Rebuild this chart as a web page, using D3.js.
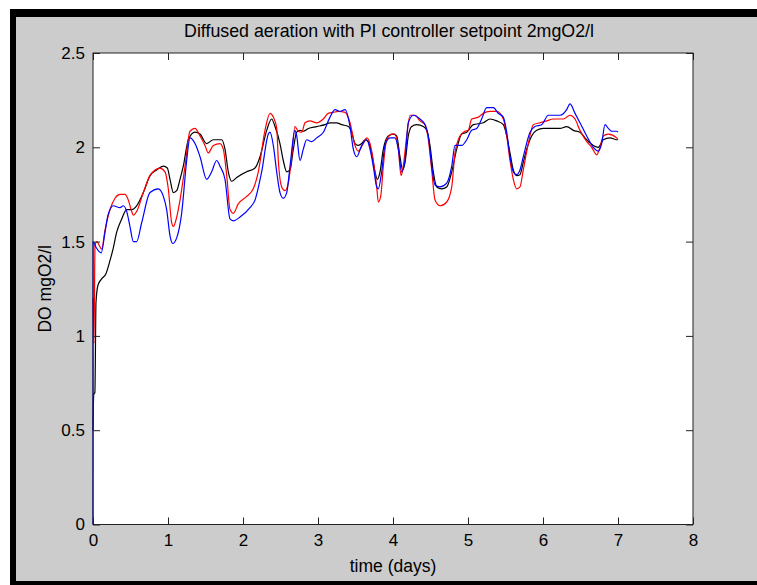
<!DOCTYPE html>
<html>
<head>
<meta charset="utf-8">
<script src="https://cdn.jsdelivr.net/npm/d3@7"></script>
<style>
  html, body { margin: 0; padding: 0; background: #fff; overflow: hidden; }
  svg { display: block; }
  text { font-family: "Liberation Sans", Arial, Helvetica, sans-serif; fill: #000; }
</style>
</head>
<body>
<div id="content"></div>
<script>
// Data (time in days, DO in mgO2/l)
const blackT = [0, 0.01, 0.025, 0.04, 0.067, 0.11, 0.173, 0.227, 0.267, 0.316, 0.383, 0.449, 0.516, 0.582, 0.671, 0.76, 0.849, 0.938, 0.991, 1.027, 1.071, 1.116, 1.16, 1.204, 1.271, 1.36, 1.427, 1.516, 1.604, 1.716, 1.76, 1.804, 1.849, 1.916, 2.049, 2.16, 2.227, 2.316, 2.382, 2.427, 2.493, 2.537, 2.583, 2.627, 2.671, 2.716, 2.76, 2.804, 2.871, 2.983, 3.093, 3.16, 3.249, 3.316, 3.404, 3.449, 3.493, 3.537, 3.583, 3.627, 3.671, 3.716, 3.76, 3.791, 3.827, 3.871, 3.937, 4.004, 4.049, 4.093, 4.129, 4.16, 4.204, 4.249, 4.316, 4.404, 4.449, 4.493, 4.537, 4.583, 4.649, 4.716, 4.783, 4.849, 4.916, 4.983, 5.071, 5.204, 5.293, 5.383, 5.471, 5.516, 5.56, 5.604, 5.649, 5.693, 5.737, 5.783, 5.849, 5.916, 6.004, 6.116, 6.227, 6.316, 6.404, 6.493, 6.583, 6.671, 6.737, 6.804, 6.893, 6.983, 7.0]
const blackV = [0.50, 0.69, 0.70, 1.18, 1.27, 1.30, 1.33, 1.40, 1.46, 1.55, 1.62, 1.67, 1.67, 1.69, 1.76, 1.85, 1.88, 1.90, 1.89, 1.83, 1.76, 1.77, 1.83, 1.90, 2.04, 2.08, 2.07, 2.02, 2.04, 2.04, 1.99, 1.87, 1.82, 1.84, 1.87, 1.89, 1.95, 2.09, 2.15, 2.11, 2.02, 1.93, 1.87, 1.88, 1.99, 2.08, 2.09, 2.085, 2.10, 2.11, 2.12, 2.13, 2.13, 2.12, 2.11, 2.08, 2.02, 2.01, 2.02, 2.04, 2.03, 1.97, 1.87, 1.83, 1.87, 1.99, 2.06, 2.07, 2.06, 1.95, 1.88, 1.92, 2.06, 2.11, 2.12, 2.11, 2.09, 2.01, 1.87, 1.79, 1.78, 1.79, 1.87, 1.99, 2.07, 2.08, 2.12, 2.13, 2.15, 2.14, 2.12, 2.06, 1.97, 1.88, 1.85, 1.855, 1.92, 1.99, 2.06, 2.09, 2.10, 2.10, 2.10, 2.11, 2.09, 2.08, 2.04, 2.01, 2.00, 2.04, 2.05, 2.04, 2.04]

const redT = [0, 0.013, 0.027, 0.05, 0.07, 0.116, 0.16, 0.227, 0.293, 0.36, 0.427, 0.471, 0.516, 0.538, 0.582, 0.671, 0.76, 0.827, 0.893, 0.96, 1.004, 1.049, 1.071, 1.116, 1.16, 1.227, 1.293, 1.36, 1.427, 1.493, 1.537, 1.604, 1.693, 1.737, 1.783, 1.827, 1.871, 1.937, 2.049, 2.137, 2.204, 2.293, 2.36, 2.404, 2.45, 2.471, 2.516, 2.56, 2.604, 2.649, 2.693, 2.737, 2.783, 2.827, 2.893, 2.983, 3.071, 3.137, 3.204, 3.271, 3.36, 3.427, 3.493, 3.537, 3.604, 3.649, 3.693, 3.737, 3.783, 3.804, 3.836, 3.871, 3.916, 3.983, 4.027, 4.071, 4.107, 4.137, 4.183, 4.227, 4.293, 4.36, 4.427, 4.471, 4.516, 4.56, 4.627, 4.716, 4.783, 4.827, 4.893, 4.96, 5.004, 5.049, 5.137, 5.204, 5.293, 5.383, 5.471, 5.516, 5.56, 5.604, 5.649, 5.693, 5.737, 5.804, 5.871, 5.96, 6.049, 6.137, 6.271, 6.36, 6.427, 6.493, 6.583, 6.649, 6.716, 6.76, 6.804, 6.871, 6.983, 7.0]
const redV = [1.20, 0.96, 1.48, 1.50, 1.49, 1.46, 1.56, 1.67, 1.73, 1.75, 1.75, 1.72, 1.66, 1.64, 1.66, 1.76, 1.85, 1.88, 1.89, 1.87, 1.78, 1.60, 1.58, 1.63, 1.72, 1.90, 2.085, 2.10, 2.06, 2.01, 1.97, 2.01, 2.02, 1.99, 1.85, 1.67, 1.65, 1.70, 1.74, 1.78, 1.87, 2.09, 2.18, 2.16, 2.10, 1.93, 1.79, 1.77, 1.81, 1.95, 2.11, 2.085, 2.08, 2.13, 2.14, 2.13, 2.15, 2.18, 2.185, 2.19, 2.185, 2.13, 2.01, 1.98, 2.02, 2.05, 2.02, 1.93, 1.79, 1.71, 1.74, 1.90, 2.04, 2.07, 2.07, 1.99, 1.85, 1.90, 2.06, 2.17, 2.17, 2.14, 2.12, 2.04, 1.88, 1.72, 1.69, 1.71, 1.79, 1.97, 2.06, 2.085, 2.09, 2.15, 2.16, 2.18, 2.19, 2.19, 2.15, 2.06, 1.93, 1.83, 1.78, 1.79, 1.88, 2.02, 2.12, 2.13, 2.14, 2.15, 2.15, 2.17, 2.15, 2.09, 2.03, 2.00, 1.96, 2.00, 2.06, 2.07, 2.05, 2.04]

const blueT = [0, 0.001, 0.04, 0.11, 0.16, 0.2, 0.271, 0.36, 0.404, 0.449, 0.493, 0.538, 0.582, 0.649, 0.76, 0.871, 0.938, 0.982, 1.027, 1.062, 1.116, 1.182, 1.249, 1.293, 1.36, 1.427, 1.516, 1.582, 1.649, 1.693, 1.76, 1.827, 1.871, 1.96, 2.093, 2.16, 2.249, 2.338, 2.36, 2.404, 2.449, 2.493, 2.537, 2.583, 2.627, 2.693, 2.716, 2.76, 2.804, 2.849, 2.916, 2.983, 3.071, 3.16, 3.227, 3.293, 3.36, 3.427, 3.471, 3.516, 3.583, 3.649, 3.693, 3.737, 3.783, 3.804, 3.849, 3.893, 3.96, 4.027, 4.071, 4.116, 4.16, 4.204, 4.271, 4.36, 4.427, 4.471, 4.516, 4.56, 4.627, 4.716, 4.783, 4.827, 4.916, 4.983, 5.049, 5.116, 5.182, 5.249, 5.338, 5.404, 5.471, 5.516, 5.56, 5.604, 5.649, 5.693, 5.737, 5.827, 5.893, 5.983, 6.071, 6.227, 6.316, 6.36, 6.427, 6.493, 6.583, 6.671, 6.737, 6.782, 6.827, 6.871, 6.916, 6.983, 7.0]
const blueV = [0, 1.50, 1.47, 1.44, 1.55, 1.64, 1.69, 1.68, 1.69, 1.66, 1.58, 1.50, 1.50, 1.60, 1.76, 1.78, 1.74, 1.67, 1.53, 1.49, 1.52, 1.65, 1.93, 2.05, 2.02, 1.95, 1.83, 1.87, 1.93, 1.90, 1.83, 1.62, 1.61, 1.63, 1.68, 1.72, 1.87, 2.07, 2.08, 2.01, 1.87, 1.76, 1.73, 1.76, 1.90, 2.09, 2.06, 1.93, 1.99, 2.04, 2.03, 2.05, 2.08, 2.16, 2.20, 2.19, 2.20, 2.11, 1.99, 1.95, 2.01, 2.04, 1.99, 1.90, 1.79, 1.78, 1.87, 2.01, 2.05, 2.05, 1.99, 1.87, 1.93, 2.13, 2.17, 2.15, 2.12, 2.06, 1.90, 1.80, 1.79, 1.81, 1.90, 2.01, 2.01, 2.04, 2.09, 2.10, 2.15, 2.21, 2.21, 2.18, 2.16, 2.08, 1.95, 1.87, 1.855, 1.88, 1.95, 2.08, 2.11, 2.12, 2.17, 2.17, 2.20, 2.23, 2.18, 2.13, 2.06, 2.00, 1.98, 2.02, 2.12, 2.10, 2.085, 2.085, 2.08]

const xTicks = [0, 1, 2, 3, 4, 5, 6, 7, 8]
const yTicks = [0, 0.5, 1, 1.5, 2, 2.5]

const W = 757, H = 585
const FS = 17
// axes box position in pixels (window.top is taken, hence the prefix)
const axL = 93, axR = 693, axT = 53, axB = 524.5

const svg = d3.select('#content').append('svg')
  .attr('width', W).attr('height', H)

// figure window: white margin, grey inside, black frame on top/left/bottom only
svg.append('rect').attr('width', W).attr('height', H).attr('fill', '#fff')
svg.append('rect').attr('x', 10).attr('y', 9).attr('width', W - 10).attr('height', H - 9).attr('fill', '#cccccc')
svg.append('rect').attr('x', 10).attr('y', 9).attr('width', W - 10).attr('height', 8).attr('fill', '#000')
svg.append('rect').attr('x', 10).attr('y', 9).attr('width', 6).attr('height', H - 9).attr('fill', '#000')
svg.append('rect').attr('x', 10).attr('y', 581).attr('width', W - 10).attr('height', 4).attr('fill', '#000')

let x = d3.scaleLinear().domain([0, 8]).range([axL, axR])
let y = d3.scaleLinear().domain([0, 2.5]).range([axB, axT])

svg.append('rect')
  .attr('x', axL).attr('y', axT)
  .attr('width', axR - axL).attr('height', axB - axT)
  .attr('fill', '#fff')

// lines
let line = d3.line().x(d => x(d[0])).y(d => y(d[1])).curve(d3.curveMonotoneX)
const series = [
  { t: blackT, v: blackV, color: '#000000' },
  { t: redT, v: redV, color: '#ff0000' },
  { t: blueT, v: blueV, color: '#0000ff' }
]
svg.append('g').attr('class', 'lines')
  .selectAll('path')
  .data(series)
  .enter()
  .append('path')
  .attr('d', s => line(s.t.map((t, i) => [t, s.v[i]])))
  .attr('fill', 'none')
  .attr('stroke', s => s.color)
  .attr('stroke-width', 1.2)
  .attr('stroke-linejoin', 'round')

// axes, ticks pointing inwards on all 4 sides like matlab
function styleAxis(g) {
  g.selectAll('.domain').remove()
  g.selectAll('.tick line').attr('stroke', '#222')
  g.selectAll('.tick text').attr('font-size', FS).attr('fill', '#000')
    .style('font-family', '"Liberation Sans", Arial, sans-serif')
}

svg.append('g')
  .attr('transform', `translate(0,${axB})`)
  .call(d3.axisBottom(x).tickValues(xTicks).tickSize(-7).tickPadding(9).tickFormat(d => d))
  .call(styleAxis)
svg.append('g')
  .attr('transform', `translate(0,${axT})`)
  .call(d3.axisTop(x).tickValues(xTicks).tickSize(-7).tickFormat(''))
  .call(styleAxis)
svg.append('g')
  .attr('transform', `translate(${axL},0)`)
  .call(d3.axisLeft(y).tickValues(yTicks).tickSize(-7).tickPadding(8).tickFormat(d => d))
  .call(styleAxis)
svg.append('g')
  .attr('transform', `translate(${axR},0)`)
  .call(d3.axisRight(y).tickValues(yTicks).tickSize(-7).tickFormat(''))
  .call(styleAxis)

// box
svg.append('rect')
  .attr('x', axL).attr('y', axT)
  .attr('width', axR - axL).attr('height', axB - axT)
  .attr('fill', 'none').attr('stroke', '#222').attr('stroke-width', 1)

// labels
svg.append('text')
  .attr('x', (axL + axR) / 2 - 4).attr('y', 37)
  .attr('text-anchor', 'middle').attr('font-size', 17.8)
  .text('Diffused aeration with PI controller setpoint 2mgO2/l')

svg.append('text')
  .attr('x', (axL + axR) / 2).attr('y', 572)
  .attr('text-anchor', 'middle').attr('font-size', 17.5)
  .text('time (days)')

svg.append('text')
  .attr('transform', `translate(51,${(axT + axB) / 2}) rotate(-90)`)
  .attr('text-anchor', 'middle').attr('font-size', 17.5)
  .text('DO mgO2/l')
</script>
</body>
</html>
